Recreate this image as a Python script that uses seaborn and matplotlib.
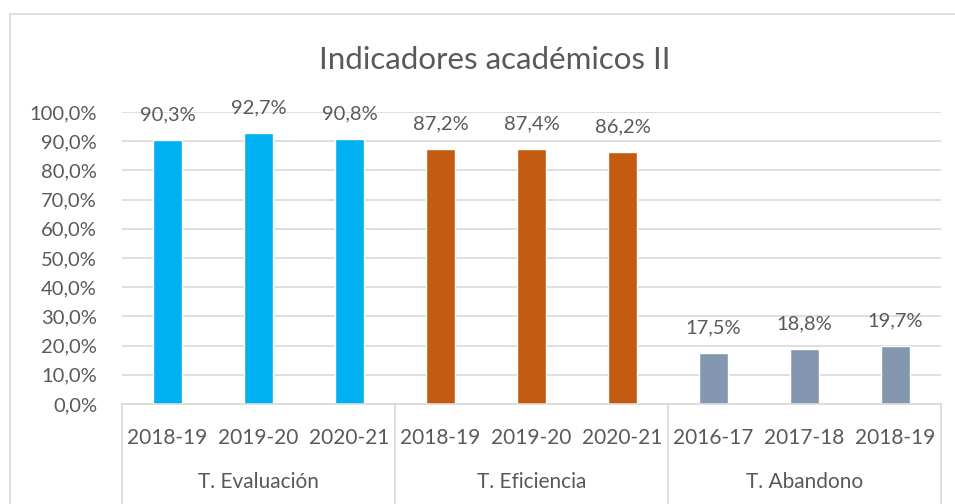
import pandas as pd
import matplotlib.pyplot as plt
import seaborn as sns
from matplotlib.lines import Line2D
from matplotlib.patches import Rectangle

# -------------------------------
# Data
# -------------------------------
groups = ["T. Evaluación", "T. Eficiencia", "T. Abandono"]
years = [
    ["2018-19", "2019-20", "2020-21"],
    ["2018-19", "2019-20", "2020-21"],
    ["2016-17", "2017-18", "2018-19"],
]
values = [
    [90.3, 92.7, 90.8],
    [87.2, 87.4, 86.2],
    [17.5, 18.8, 19.7],
]
colors = ["#00B0F0", "#C55A11", "#8497B0"]
title = "Indicadores académicos II"

rows = []
for g, ys, vs in zip(groups, years, values):
    for y, v in zip(ys, vs):
        rows.append({"key": g + "|" + y, "group": g, "year": y, "value": v})
df = pd.DataFrame(rows)

# -------------------------------
# Plot
# -------------------------------
sns.set_style("white")
plt.rcParams['font.family'] = ['Lato', 'DejaVu Sans']
text_color = "#595959"
line_color = "#D9D9D9"

fig = plt.figure(figsize=(9.55, 5.04), dpi=100)
ax = fig.add_axes([122 / 955, 1 - 404 / 504, (941 - 122) / 955, (404 - 112) / 504])

sns.barplot(data=df, x="key", y="value", hue="group", palette=colors,
            saturation=1, dodge=False, width=0.32, legend=False, ax=ax)

ax.set_ylim(0, 100)
ax.set_xlim(-0.5, len(df) - 0.5)
ax.set_yticks(range(0, 101, 10))
ax.set_yticklabels([f"{t:.1f}%".replace(".", ",") for t in range(0, 101, 10)])
ax.yaxis.grid(True, color=line_color, linewidth=1.2)
ax.set_axisbelow(True)
ax.tick_params(axis="y", length=0, pad=18, labelsize=14.5, labelcolor=text_color)
ax.tick_params(axis="x", length=0, pad=17, labelsize=15, labelcolor=text_color)
ax.set_xticks(range(len(df)))
ax.set_xticklabels(df["year"])
ax.set_xlabel("")
ax.set_ylabel("")
for side in ["top", "right", "left"]:
    ax.spines[side].set_visible(False)
ax.spines["bottom"].set_color(line_color)
ax.spines["bottom"].set_linewidth(1.2)

# data labels
for cont in ax.containers:
    labels = [f"{b.get_height():.1f}%".replace(".", ",") for b in cont]
    ax.bar_label(cont, labels=labels, padding=12, fontsize=14.5, color=text_color)

# group labels and separators
n = len(df)
for i, g in enumerate(groups):
    ax.text((3 * i + 1.5) / n, -0.268, g, transform=ax.transAxes,
            ha="center", va="center", fontsize=15, color=text_color)
for i in range(len(groups) + 1):
    ax.add_line(Line2D([3 * i / n, 3 * i / n], [0, -0.35], transform=ax.transAxes,
                       color=line_color, linewidth=1.2, clip_on=False))

# title
fig.text(495 / 955, 1 - 60 / 504, title, ha="center", va="center",
         fontsize=22.5, color=text_color)

# chart frame
fig.add_artist(Rectangle((9.5 / 955, -0.1), 1.2, 1 - 13.5 / 504 + 0.1,
                         transform=fig.transFigure, fill=False,
                         edgecolor=line_color, linewidth=1.2))

fig.savefig("out.png", dpi=100)
